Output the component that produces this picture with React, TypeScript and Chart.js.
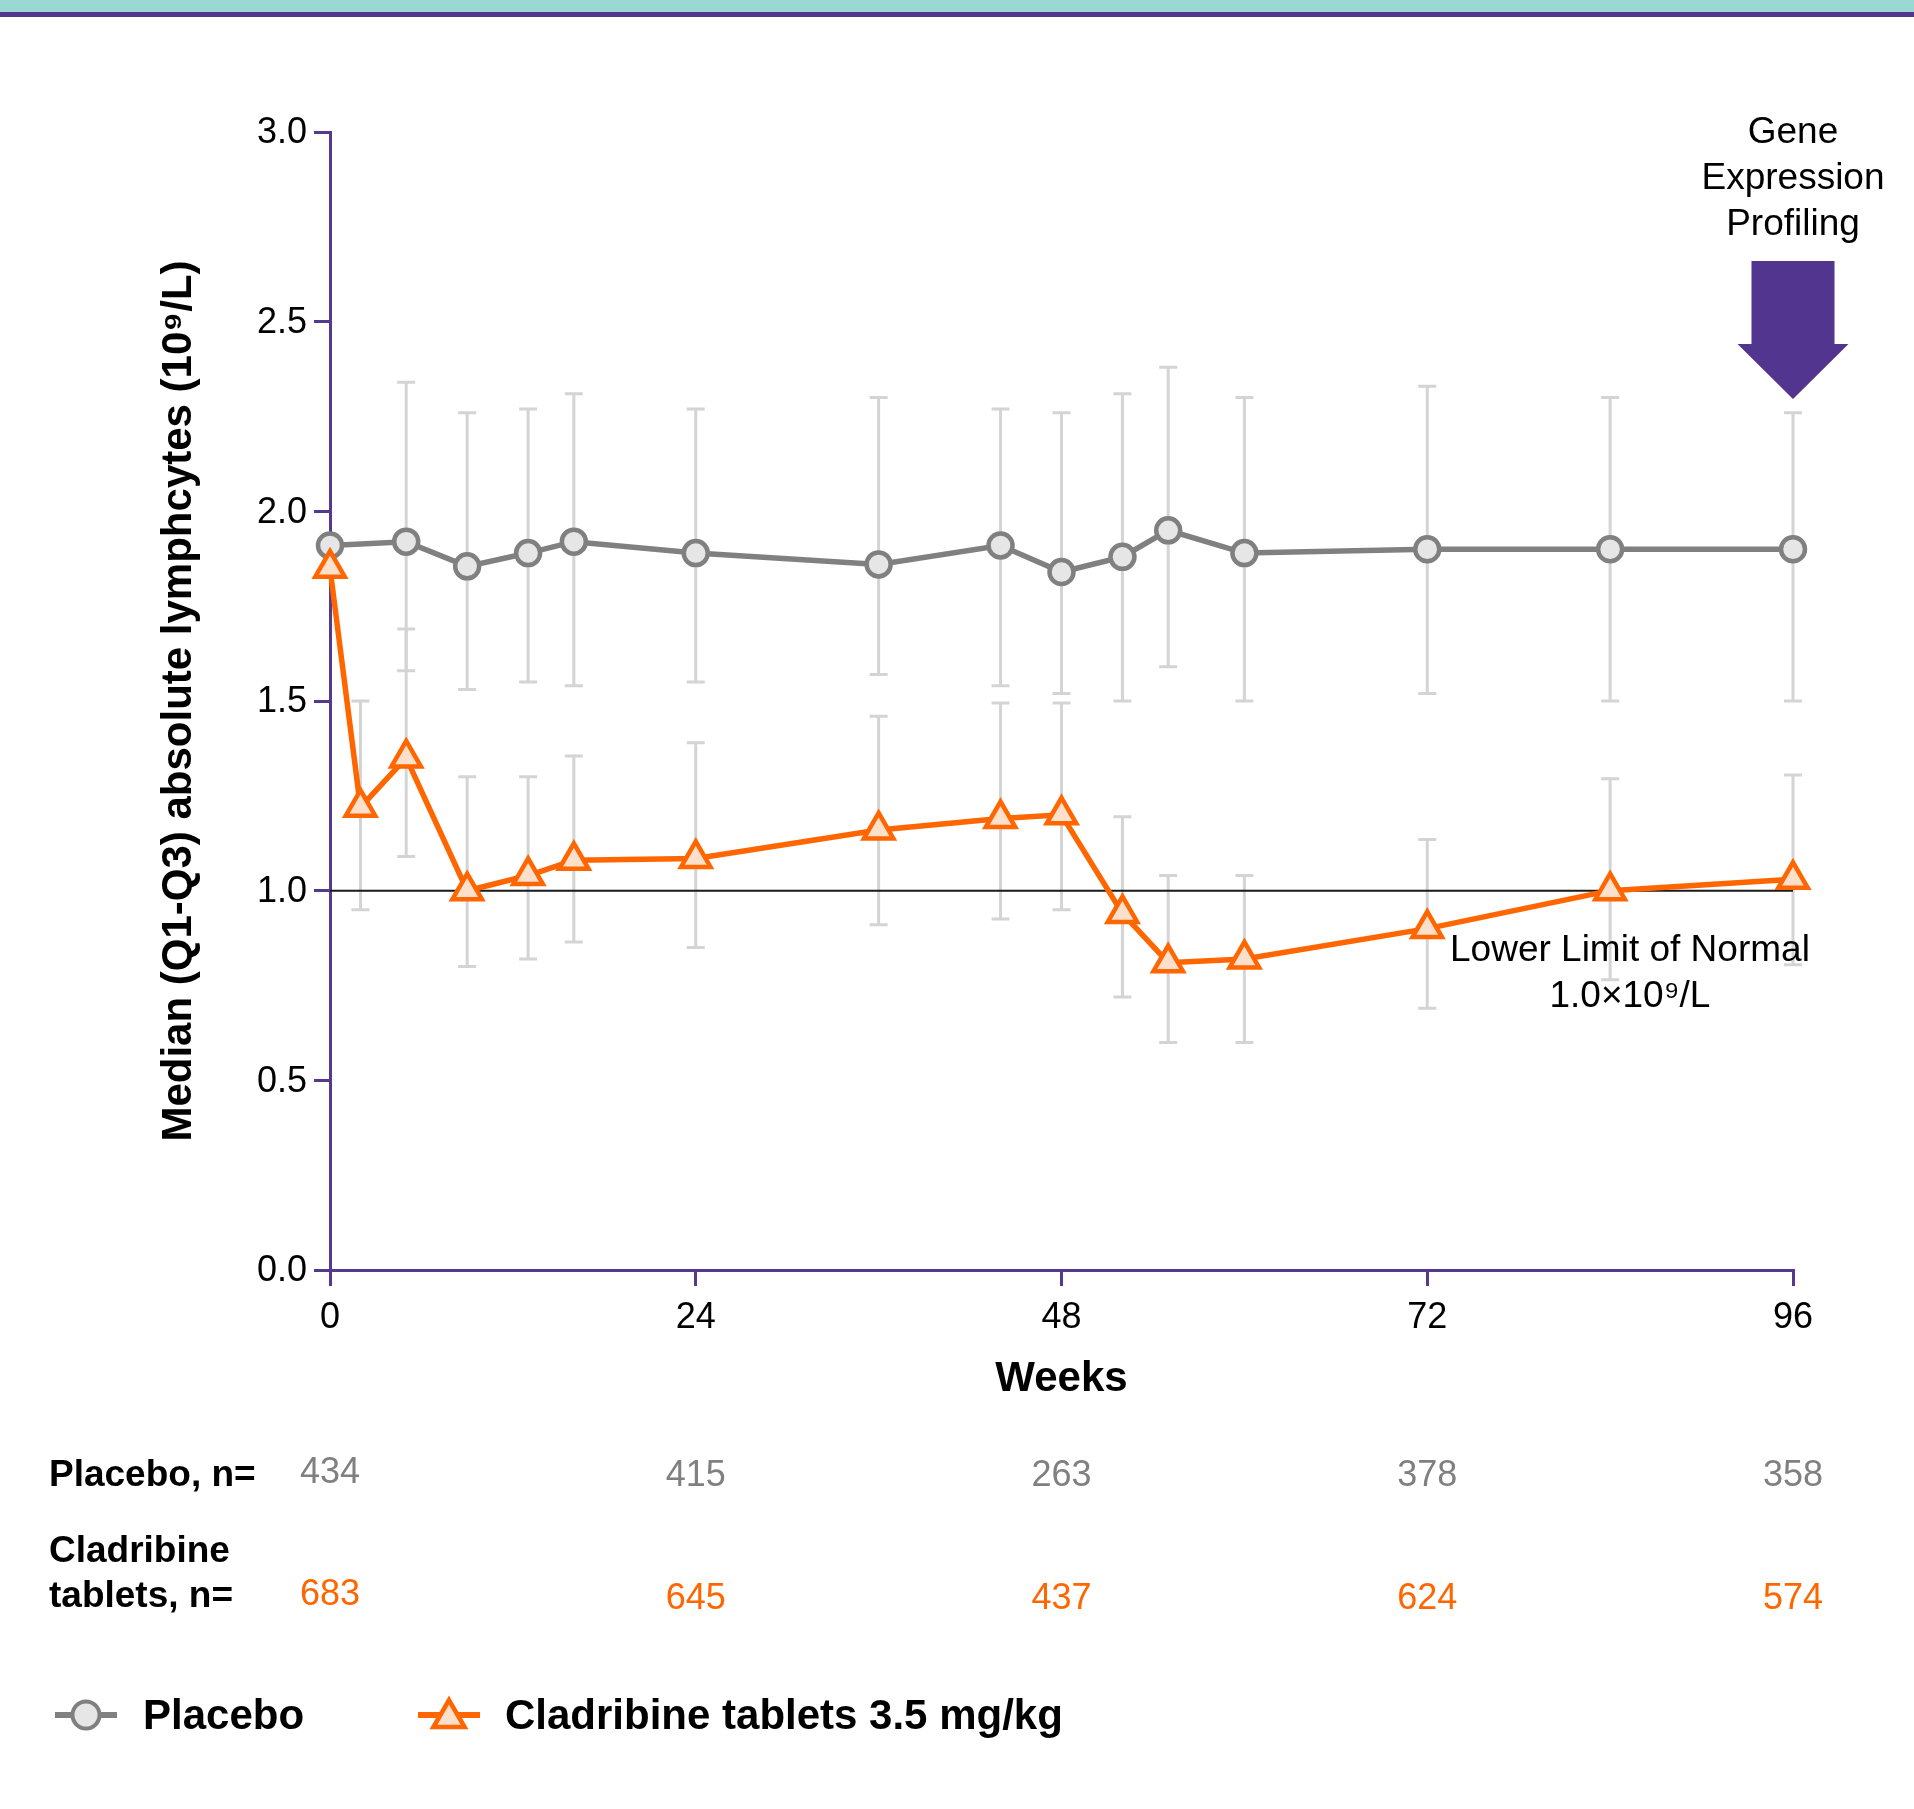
import React, { useEffect, useRef } from 'react';
import { Chart, registerables } from 'chart.js';

Chart.register(...registerables);

// ---------------- data ----------------
const placeboWeeks = [0, 5, 9, 13, 16, 24, 36, 44, 48, 52, 55, 60, 72, 84, 96];
const placeboMedian = [1.91, 1.92, 1.855, 1.89, 1.92, 1.89, 1.86, 1.91, 1.84, 1.88, 1.95, 1.89, 1.90, 1.90, 1.90];
const placeboQ1 = [null, 1.58, 1.53, 1.55, 1.54, 1.55, 1.57, 1.54, 1.52, 1.50, 1.59, 1.50, 1.52, 1.50, 1.50];
const placeboQ3 = [null, 2.34, 2.26, 2.27, 2.31, 2.27, 2.30, 2.27, 2.26, 2.31, 2.38, 2.30, 2.33, 2.30, 2.26];

const cladWeeks = [0, 2, 5, 9, 13, 16, 24, 36, 44, 48, 52, 55, 60, 72, 84, 96];
const cladMedian = [1.85, 1.22, 1.35, 1.00, 1.04, 1.08, 1.085, 1.16, 1.19, 1.20, 0.94, 0.81, 0.82, 0.90, 1.00, 1.03];
const cladQ1 = [null, 0.95, 1.09, 0.80, 0.82, 0.865, 0.85, 0.91, 0.925, 0.95, 0.72, 0.60, 0.60, 0.69, 0.765, 0.805];
const cladQ3 = [null, 1.50, 1.69, 1.30, 1.30, 1.355, 1.39, 1.46, 1.495, 1.495, 1.195, 1.04, 1.04, 1.135, 1.295, 1.305];

const xTicks = [0, 24, 48, 72, 96];
const yTicks = [0, 0.5, 1.0, 1.5, 2.0, 2.5, 3.0];
const llnValue = 1.0;

const nWeeks = [0, 24, 48, 72, 96];
const placeboN = [434, 415, 263, 378, 358];
const cladN = [683, 645, 437, 624, 574];

const placeboLabel = 'Placebo';
const cladLabel = 'Cladribine tablets 3.5 mg/kg';
const yTitle = 'Median (Q1-Q3) absolute lymphcytes (10\u2079/L)';
const xTitle = 'Weeks';

// ---------------- styles ----------------
const FONT = "'Liberation Sans', Arial, Helvetica, sans-serif";
const AXIS = '#54398f';
const GRAY = '#808080';
const GRAY_FILL = '#e6e6e6';
const ORANGE = '#ff6600';
const ORANGE_FILL = '#fde0cb';
const ERR = '#d4d4d4';
const TY = 4; // vertical text nudge

function drawTriangle(ctx: CanvasRenderingContext2D, x: number, y: number, r: number) {
  ctx.beginPath();
  ctx.moveTo(x, y - r);
  ctx.lineTo(x + Math.sin((2 * Math.PI) / 3) * r, y + 0.5 * r);
  ctx.lineTo(x - Math.sin((2 * Math.PI) / 3) * r, y + 0.5 * r);
  ctx.closePath();
}

const errorBarsPlugin = {
  id: 'errorBars',
  beforeDatasetsDraw(chart: any) {
    const { ctx } = chart;
    const xs = chart.scales.x;
    const ys = chart.scales.y;
    ctx.save();
    ctx.strokeStyle = ERR;
    ctx.lineWidth = 3;
    const draw = (weeks: number[], lo: (number | null)[], hi: (number | null)[]) => {
      weeks.forEach((w, i) => {
        const l = lo[i];
        const h = hi[i];
        if (l == null || h == null) return;
        const px = xs.getPixelForValue(w);
        const y1 = ys.getPixelForValue(l);
        const y2 = ys.getPixelForValue(h);
        ctx.beginPath();
        ctx.moveTo(px, y1);
        ctx.lineTo(px, y2);
        ctx.moveTo(px - 9, y1);
        ctx.lineTo(px + 9, y1);
        ctx.moveTo(px - 9, y2);
        ctx.lineTo(px + 9, y2);
        ctx.stroke();
      });
    };
    draw(placeboWeeks, placeboQ1, placeboQ3);
    draw(cladWeeks, cladQ1, cladQ3);
    ctx.restore();
  },
};

const decorPlugin = {
  id: 'decor',
  beforeDraw(chart: any) {
    const { ctx, width } = chart;
    ctx.save();
    ctx.fillStyle = '#ffffff';
    ctx.fillRect(0, 0, width, chart.height);
    ctx.fillStyle = '#9ad8d3';
    ctx.fillRect(0, 0, width, 12);
    ctx.fillStyle = '#52358f';
    ctx.fillRect(0, 12, width, 5);
    ctx.restore();
  },
  afterDraw(chart: any) {
    const { ctx } = chart;
    const xs = chart.scales.x;
    const ys = chart.scales.y;
    ctx.save();

    // Lower limit of normal annotation
    ctx.fillStyle = '#000';
    ctx.textAlign = 'center';
    ctx.textBaseline = 'middle';
    ctx.font = `37px ${FONT}`;
    const lx = xs.getPixelForValue(85.3);
    ctx.fillText('Lower Limit of Normal', lx, ys.getPixelForValue(0.851) + TY);
    ctx.fillText('1.0\u00d710\u2079/L', lx, ys.getPixelForValue(0.731) + TY);

    // Gene expression profiling label + arrow
    const gx = xs.getPixelForValue(96);
    ['Gene', 'Expression', 'Profiling'].forEach((t, i) => {
      ctx.fillText(t, gx, 129 + TY + i * 46);
    });
    ctx.fillStyle = '#52358f';
    const aTop = ys.getPixelForValue(2.66);
    const aNeck = ys.getPixelForValue(2.441);
    const aTip = ys.getPixelForValue(2.296);
    ctx.beginPath();
    ctx.moveTo(gx - 41.5, aTop);
    ctx.lineTo(gx + 41.5, aTop);
    ctx.lineTo(gx + 41.5, aNeck);
    ctx.lineTo(gx + 55.5, aNeck);
    ctx.lineTo(gx, aTip);
    ctx.lineTo(gx - 55.5, aNeck);
    ctx.lineTo(gx - 41.5, aNeck);
    ctx.closePath();
    ctx.fill();

    // n= table
    ctx.fillStyle = '#000';
    ctx.textAlign = 'left';
    ctx.font = `bold 37px ${FONT}`;
    ctx.fillText('Placebo, n=', 49, 1472 + TY);
    ctx.fillText('Cladribine', 49, 1547.5 + TY);
    ctx.fillText('tablets, n=', 49, 1592.5 + TY);
    ctx.textAlign = 'center';
    ctx.font = `36px ${FONT}`;
    nWeeks.forEach((w, i) => {
      const px = xs.getPixelForValue(w);
      ctx.fillStyle = GRAY;
      ctx.fillText(String(placeboN[i]), px, (i === 0 ? 1469 : 1472) + TY);
      ctx.fillStyle = ORANGE;
      ctx.fillText(String(cladN[i]), px, (i === 0 ? 1591 : 1595) + TY);
    });

    // legend
    const ly = 1715;
    ctx.lineWidth = 6;
    ctx.strokeStyle = GRAY;
    ctx.beginPath();
    ctx.moveTo(55, ly);
    ctx.lineTo(117, ly);
    ctx.stroke();
    ctx.beginPath();
    ctx.arc(86, ly, 13.5, 0, Math.PI * 2);
    ctx.fillStyle = GRAY_FILL;
    ctx.fill();
    ctx.lineWidth = 4;
    ctx.stroke();

    ctx.lineWidth = 6;
    ctx.strokeStyle = ORANGE;
    ctx.beginPath();
    ctx.moveTo(418, ly);
    ctx.lineTo(480, ly);
    ctx.stroke();
    drawTriangle(ctx, 449, ly + 3, 18);
    ctx.fillStyle = ORANGE_FILL;
    ctx.fill();
    ctx.lineWidth = 4.5;
    ctx.stroke();

    ctx.fillStyle = '#000';
    ctx.textAlign = 'left';
    ctx.font = `bold 42px ${FONT}`;
    ctx.fillText(placeboLabel, 143, 1712.5 + TY + 1);
    ctx.fillText(cladLabel, 505, 1712.5 + TY + 1);

    ctx.restore();
  },
};

export default function App() {
  const ref = useRef<HTMLCanvasElement>(null);

  useEffect(() => {
    if (!ref.current) return;
    Chart.defaults.font.family = FONT;
    const axisCommon = {
      grid: {
        display: true,
        drawOnChartArea: false,
        drawTicks: true,
        tickLength: 16,
        color: AXIS,
        lineWidth: 3,
      },
      border: { display: true, color: AXIS, width: 3 },
    };
    const chart = new Chart(ref.current, {
      type: 'line',
      data: {
        datasets: [
          {
            label: cladLabel,
            data: cladWeeks.map((w, i) => ({ x: w, y: cladMedian[i] })),
            borderColor: ORANGE,
            borderWidth: 5.5,
            pointStyle: 'triangle',
            pointRadius: 17,
            pointBorderWidth: 4.5,
            pointBackgroundColor: ORANGE_FILL,
            pointBorderColor: ORANGE,
            tension: 0,
            clip: false,
            order: 0,
          },
          {
            label: placeboLabel,
            data: placeboWeeks.map((w, i) => ({ x: w, y: placeboMedian[i] })),
            borderColor: GRAY,
            borderWidth: 5.5,
            pointStyle: 'circle',
            pointRadius: 12,
            pointBorderWidth: 4.5,
            pointBackgroundColor: GRAY_FILL,
            pointBorderColor: GRAY,
            tension: 0,
            clip: false,
            order: 1,
          },
          {
            label: 'Lower Limit of Normal',
            data: [
              { x: xTicks[0], y: llnValue },
              { x: xTicks[xTicks.length - 1], y: llnValue },
            ],
            borderColor: '#1a1a1a',
            borderWidth: 2,
            pointRadius: 0,
            tension: 0,
            order: 2,
          },
        ],
      } as any,
      options: {
        animation: false,
        responsive: false,
        devicePixelRatio: 1,
        events: [],
        layout: { padding: { top: 132, right: 121, left: 0, bottom: 0 } },
        plugins: {
          legend: { display: false },
          tooltip: { enabled: false },
        },
        scales: {
          x: {
            type: 'linear',
            min: 0,
            max: 96,
            ...axisCommon,
            afterBuildTicks: (s: any) => {
              s.ticks = xTicks.map((v) => ({ value: v }));
            },
            afterFit: (s: any) => {
              s.height = 539;
            },
            ticks: {
              color: '#000',
              font: { size: 36 },
              padding: 10,
              maxRotation: 0,
              autoSkip: false,
              callback: (v: any) => String(v),
            },
            title: {
              display: true,
              text: xTitle,
              color: '#000',
              font: { size: 42, weight: 'bold' },
              padding: { top: 0, bottom: 404 },
            },
          },
          y: {
            type: 'linear',
            min: 0,
            max: 3,
            ...axisCommon,
            afterBuildTicks: (s: any) => {
              s.ticks = yTicks.map((v) => ({ value: v }));
            },
            afterFit: (s: any) => {
              s.width = 330;
            },
            ticks: {
              color: '#000',
              font: { size: 36 },
              padding: 7,
              labelOffset: 1.5,
              autoSkip: false,
              callback: (v: any) => Number(v).toFixed(1),
            },
            title: {
              display: true,
              text: yTitle,
              color: '#000',
              font: { size: 42, weight: 'bold' },
              padding: { top: 154, bottom: 0 },
            },
          },
        },
      } as any,
      plugins: [decorPlugin, errorBarsPlugin],
    });
    return () => chart.destroy();
  }, []);

  return (
    <div style={{ position: 'absolute', left: 0, top: 0, width: 1914, height: 1809, background: '#fff' }}>
      <canvas ref={ref} width={1914} height={1809} style={{ display: 'block', width: 1914, height: 1809 }} />
    </div>
  );
}
